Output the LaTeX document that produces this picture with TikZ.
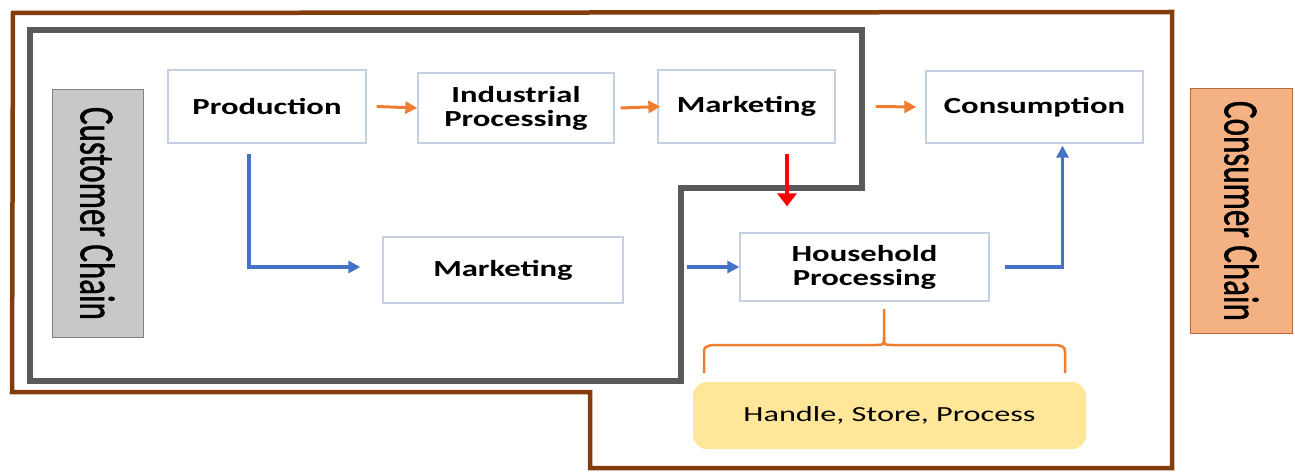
\documentclass[tikz,border=0pt]{standalone}
\usepackage{graphicx}
\usepackage{fontspec}
\setmainfont{Carlito}
\newfontfamily\bx{Carlito}[FakeStretch=1.42]
\newfontfamily\rx{Carlito}[FakeStretch=1.5]
\newfontfamily\vx{Carlito}[FakeBold=1.2]
\usetikzlibrary{arrows.meta}
\definecolor{brownline}{HTML}{843C0C}
\definecolor{greyline}{HTML}{595959}
\definecolor{boxc}{HTML}{C5D0E3}
\definecolor{bluec}{HTML}{4472C4}
\definecolor{orangec}{HTML}{ED7D31}
\definecolor{custfill}{HTML}{C8C8C8}
\definecolor{consfill}{HTML}{F4B183}
\definecolor{consdraw}{HTML}{B86A3A}
\definecolor{handlefill}{HTML}{FFE699}
\tikzset{
  box/.style={draw=boxc, line width=1.3pt, fill=white, inner sep=0pt, align=center,
    font=\bx\bfseries\fontsize{23}{24}\selectfont},
  chainbox/.style={rotate=-90, inner sep=0pt, font=\vx\fontsize{33}{33}\selectfont},
  outerline/.style={draw=brownline, line width=4.5pt, miter limit=10},
  innerline/.style={draw=greyline, line width=5.5pt},
  oarr/.style={draw=orangec, line width=3pt, -{Triangle[length=12pt,width=12pt]}},
  barr/.style={draw=bluec, line width=3.5pt, -{Triangle[length=12pt,width=12pt]}},
  rarr/.style={draw=red, line width=4.5pt, -{Triangle[length=13pt,width=19pt]}},
  bracel/.style={draw=orangec, line width=2.5pt}
}
\begin{document}
\begin{tikzpicture}[x=1pt,y=-1pt]
\useasboundingbox (0,0) rectangle (1295,473);
% outer and inner outlines
\draw[outerline] (13,13) -- (1172,12) -- (1172,468) -- (590,468) -- (590,392) -- (12,392) -- cycle;
\draw[innerline] (30,30) -- (862,30) -- (862,188) -- (681,188) -- (681,381) -- (30,381) -- cycle;
% side labels
\node[chainbox, draw=gray, line width=1pt, fill=custfill, minimum width=247pt, minimum height=91pt] (cust) at (97.5,213.5) {\scalebox{1}[1.5]{Customer Chain}};
\node[chainbox, draw=consdraw, line width=1pt, fill=consfill, minimum width=244pt, minimum height=102pt] (consch) at (1241.5,211) {\scalebox{1}[1.5]{Consumer Chain}};
% process boxes
\node[box, minimum width=198pt, minimum height=73pt] (prod) at (267,106.5) {Production};
\node[box, minimum width=196pt, minimum height=70pt] (ind) at (516,108) {Industrial\\Processing};
\node[box, minimum width=177pt, minimum height=73pt] (mkt) at (746.5,106.5) {Marketing};
\node[box, minimum width=217pt, minimum height=72pt] (cons) at (1034.5,107) {Consumption};
\node[box, minimum width=240pt, minimum height=66pt] (mktb) at (503,270) {Marketing};
\node[box, minimum width=249pt, minimum height=68pt] (hh) at (864.5,267) {Household\\Processing};
\node[fill=handlefill, rounded corners=14pt, minimum width=393pt, minimum height=67pt, inner sep=0pt,
  font=\rx\fontsize{21.5}{21.5}\selectfont] (handle) at (889.5,415.5) {Handle, Store, Process};
% orange arrows
\draw[oarr] ([xshift=10pt]prod.east) -- (ind.west);
\draw[oarr] ([xshift=6pt]ind.east) -- ([xshift=3pt]mkt.west);
\draw[oarr] ([xshift=40pt]mkt.east) -- ([xshift=-9pt]cons.west);
% red arrow
\draw[rarr] ([xshift=40.5pt,yshift=-10pt]mkt.south) -- ([xshift=-77.5pt,yshift=26pt]hh.north);
% blue arrows
\draw[barr] ([xshift=-18pt,yshift=-10pt]prod.south) |- ([xshift=-22pt,yshift=3pt]mktb.west);
\draw[barr] ([xshift=63pt]mktb.east |- hh.west) -- (hh.west);
\draw[barr] ([xshift=15pt]hh.east) -| ([xshift=28pt,yshift=-2pt]cons.south);
% brace
\draw[bracel] (704,373) -- (704,355) .. controls (704,347) .. (712,345) -- (876,345)
  .. controls (884,345) .. (884,337) -- (884,309);
\draw[bracel] (884,337) .. controls (884,345) .. (892,345) -- (1057,345)
  .. controls (1065,347) .. (1065,355) -- (1065,373);
\end{tikzpicture}
\end{document}
